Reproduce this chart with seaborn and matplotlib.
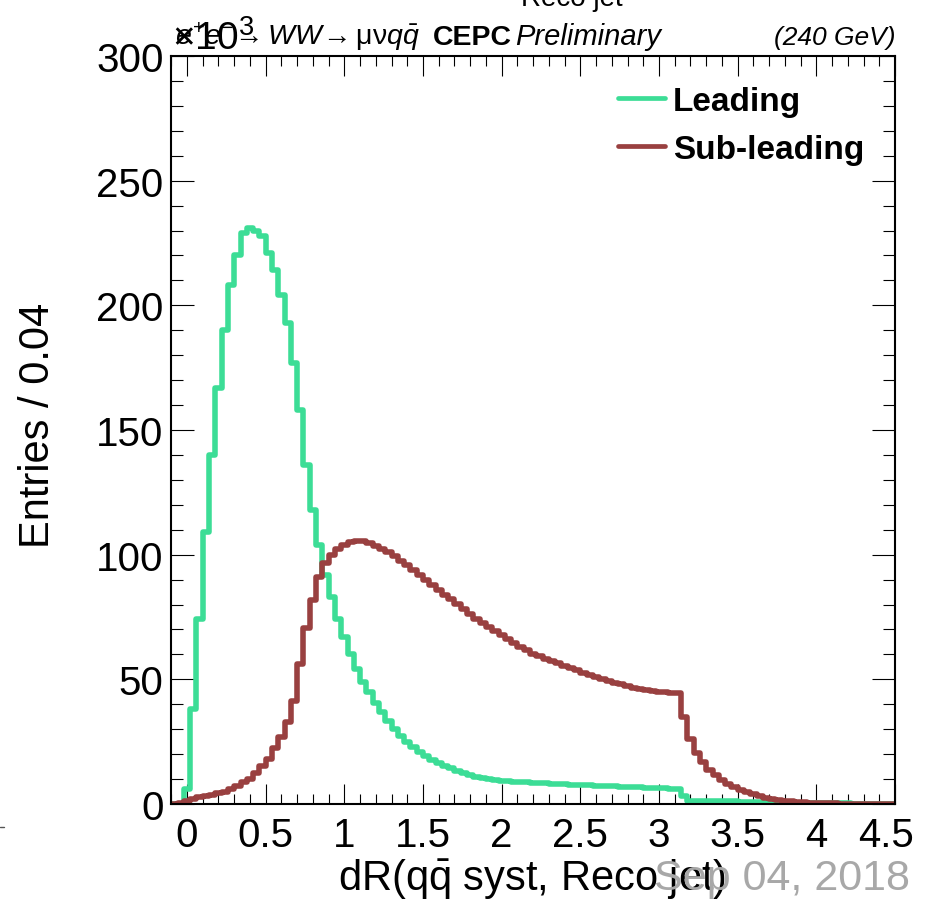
import numpy as np
import pandas as pd
import matplotlib
matplotlib.use("Agg")
import matplotlib.pyplot as plt
import matplotlib.transforms as mtransforms
from matplotlib.ticker import MultipleLocator
from matplotlib.lines import Line2D
import seaborn as sns

# ---------------- data (entries in units of 10^3, bin width 0.04 from -0.1 to 4.5) ----------------
bin_lo = -0.1
bin_hi = 4.5
bin_width = 0.04

leading = [
    0, 0, 6, 38, 74, 109, 140, 167, 190, 208,
    220, 229, 231, 230, 228, 221, 214, 204, 193, 177,
    158, 136, 118, 104, 92, 83, 74, 67, 60, 54,
    49, 45, 40.5, 37, 33.3, 30, 27.3, 25, 22.8, 20.8,
    19.2, 17.8, 16.4, 15.4, 14.4, 13.4, 12.5, 11.7, 11.0, 10.4,
    10.0, 9.7, 9.4, 9.2, 9.0, 8.8, 8.7, 8.6, 8.5, 8.3,
    8.2, 8.0, 7.9, 7.8, 7.7, 7.6, 7.5, 7.4, 7.3, 7.2,
    7.1, 7.0, 6.9, 6.8, 6.7, 6.6, 6.5, 6.4, 6.3, 6.2,
    6.1, 3.4, 1.3, 1.25, 1.2, 1.15, 1.1, 1.07, 1.04, 1.02,
    1.0, 0.95, 0.9, 0.85, 0.8, 0.75, 0.7, 0.65, 0.6, 0.55,
    0.5, 0.45, 0.4, 0.35, 0.3, 0.27, 0.24, 0.21, 0.18, 0.15,
    0.13, 0.11, 0.09, 0.07, 0.05,
]

subleading = [
    0, 0.4, 1.3, 2.0, 2.7, 3.1, 3.7, 4.3, 5.0, 6.0,
    7.1, 8.7, 10.0, 12.4, 15.4, 18.0, 22.3, 26.7, 33.0, 41.4,
    56.0, 70.7, 82.0, 91.0, 96.5, 99.8, 102.2, 103.8, 104.9, 105.3,
    105.3, 104.6, 103.6, 102.2, 100.9, 99.3, 97.6, 95.8, 94.0, 91.8,
    90.0, 87.8, 86.0, 83.9, 82.3, 80.3, 78.3, 76.3, 74.3, 72.6,
    70.9, 69.2, 67.6, 66.2, 64.6, 62.9, 61.6, 60.3, 59.2, 58.2,
    57.3, 56.4, 55.5, 54.6, 53.6, 52.7, 51.8, 51.0, 50.2, 49.4,
    48.7, 48.0, 47.3, 46.7, 46.2, 45.8, 45.4, 45.1, 44.9, 44.7,
    44.5, 35.0, 26.0, 20.5, 16.7, 13.8, 11.5, 9.6, 8.0, 6.7,
    5.6, 4.7, 3.9, 3.2, 2.6, 2.1, 1.7, 1.4, 1.1, 0.9,
    0.7, 0.55, 0.45, 0.35, 0.28, 0.22, 0.17, 0.13, 0.10, 0.08,
    0.06, 0.05, 0.04, 0.03, 0.02,
]

series_names = ["Leading", "Sub-leading"]
series_colors = ["#3cdd96", "#994040"]

x_ticks = [0, 0.5, 1, 1.5, 2, 2.5, 3, 3.5, 4, 4.5]
y_ticks = [0, 50, 100, 150, 200, 250, 300]

# ---------------- build table ----------------
n_bins = len(leading)
centers = bin_lo + bin_width * (np.arange(n_bins) + 0.5)
df = pd.concat([
    pd.DataFrame({"dR": centers, "w": leading, "jet": series_names[0]}),
    pd.DataFrame({"dR": centers, "w": subleading, "jet": series_names[1]}),
], ignore_index=True)

# ---------------- style ----------------
sns.set_theme(style="ticks")
plt.rcParams["font.family"] = ["Liberation Sans", "DejaVu Sans"]
plt.rcParams["mathtext.fontset"] = "custom"
plt.rcParams["mathtext.rm"] = "Liberation Sans"
plt.rcParams["mathtext.it"] = "Liberation Sans:italic"
plt.rcParams["mathtext.bf"] = "Liberation Sans:bold"
plt.rcParams["text.color"] = "black"
plt.rcParams["axes.labelcolor"] = "black"
plt.rcParams["xtick.color"] = "black"
plt.rcParams["ytick.color"] = "black"
plt.rcParams["xtick.labelcolor"] = "black"
plt.rcParams["ytick.labelcolor"] = "black"

W, H = 935, 903
fig = plt.figure(figsize=(W / 100, H / 100), dpi=100)
fig.patch.set_facecolor("white")
ax = fig.add_axes([171.3 / W, 1 - 805 / H, (895 - 171.3) / W, (805 - 57) / H])
ax.set_facecolor("white")

handles = []
for name, col in zip(series_names, series_colors):
    sub = df[df["jet"] == name]
    sns.histplot(data=sub, x="dR", weights="w", binwidth=bin_width,
                 binrange=(bin_lo, bin_hi), element="step",
                 fill=False, color=col, linewidth=4.0, ax=ax)
    handles.append(Line2D([], [], color=col, linewidth=3.4))

ax.set_xlim(bin_lo, bin_hi)
ax.set_ylim(0, 300)
ax.set_xlabel("")
ax.set_ylabel("")

for side in ["left", "right", "top", "bottom"]:
    ax.spines[side].set_visible(True)
    ax.spines[side].set_linewidth(1.5)
    ax.spines[side].set_color("black")

ax.set_xticks(x_ticks)
ax.set_yticks(y_ticks)
ax.xaxis.set_minor_locator(MultipleLocator(0.1))
ax.yaxis.set_minor_locator(MultipleLocator(10))
ax.set_xticklabels([f"{v:g}" for v in x_ticks])
ax.set_yticklabels([f"{v:g}" for v in y_ticks])

ax.tick_params(axis="both", which="both", direction="in", top=True, right=True,
               color="black", labelcolor="black", width=0.8)
ax.tick_params(axis="x", which="major", length=14.5, pad=9, labelsize=29)
ax.tick_params(axis="x", which="minor", length=7.2)
ax.tick_params(axis="y", which="major", length=16.5, pad=5.5, labelsize=29)
ax.tick_params(axis="y", which="minor", length=8.6)

# last x label kept inside the canvas, as in the reference
last_lab = ax.get_xticklabels()[-1]
last_lab.set_transform(last_lab.get_transform() +
                       mtransforms.ScaledTranslation(-9 / 100, 0, fig.dpi_scale_trans))

# legend
leg = ax.legend(handles, series_names, loc="upper left",
                bbox_to_anchor=(618 / W, 1 - 87 / H), bbox_transform=fig.transFigure,
                frameon=False, prop={"weight": "bold", "size": 24},
                handlelength=1.4, handletextpad=0.25, labelspacing=0.5,
                borderpad=0, borderaxespad=0)
for t in leg.get_texts():
    t.set_color("black")

# y label
fig.text(38 / W, 1 - 425 / H, "Entries / 0.04", rotation=90, ha="center", va="center",
         fontsize=30, color="black")

# x label
fig.text(532 / W, 1 - 890 / H, r"dR(q$\mathrm{\bar{q}}$ syst, Reco jet)", ha="center",
         va="baseline", fontsize=30, color="black")

# date stamp
fig.text(910 / W, 1 - 890 / H, "Sep 04, 2018", ha="right", va="baseline",
         fontsize=31, color="#a8a8a8")

# header
fig.text(175 / W, 1 - 45 / H, r"$e^{+}e^{-}\!\rightarrow WW\!\rightarrow \mathrm{\mu\nu} q\bar{q}$",
         ha="left", va="baseline", fontsize=20.5, color="black")
fig.text(433 / W, 1 - 45 / H, "CEPC", ha="left", va="baseline", fontsize=20.5,
         fontweight="bold", color="black")
fig.text(515 / W, 1 - 45 / H, "Preliminary", ha="left", va="baseline", fontsize=21,
         fontstyle="italic", color="black")
fig.text(895 / W, 1 - 45 / H, "(240 GeV)", ha="right", va="baseline", fontsize=19,
         fontstyle="italic", color="black")

# multiplier
fig.text(172 / W, 1 - 50 / H, r"$\times\mathrm{10}^{\mathrm{3}}$", ha="left", va="baseline",
         fontsize=28, color="black")

# clipped title
fig.text(572 / W, 1 - 6 / H, "Reco jet", ha="center", va="baseline", fontsize=20,
         color="black")

# stray mark at left
fig.add_artist(Line2D([0, 4 / W], [1 - 828 / H, 1 - 828 / H], color="#555555",
                      linewidth=1, transform=fig.transFigure))

fig.savefig("out.png", dpi=100, facecolor="white")
